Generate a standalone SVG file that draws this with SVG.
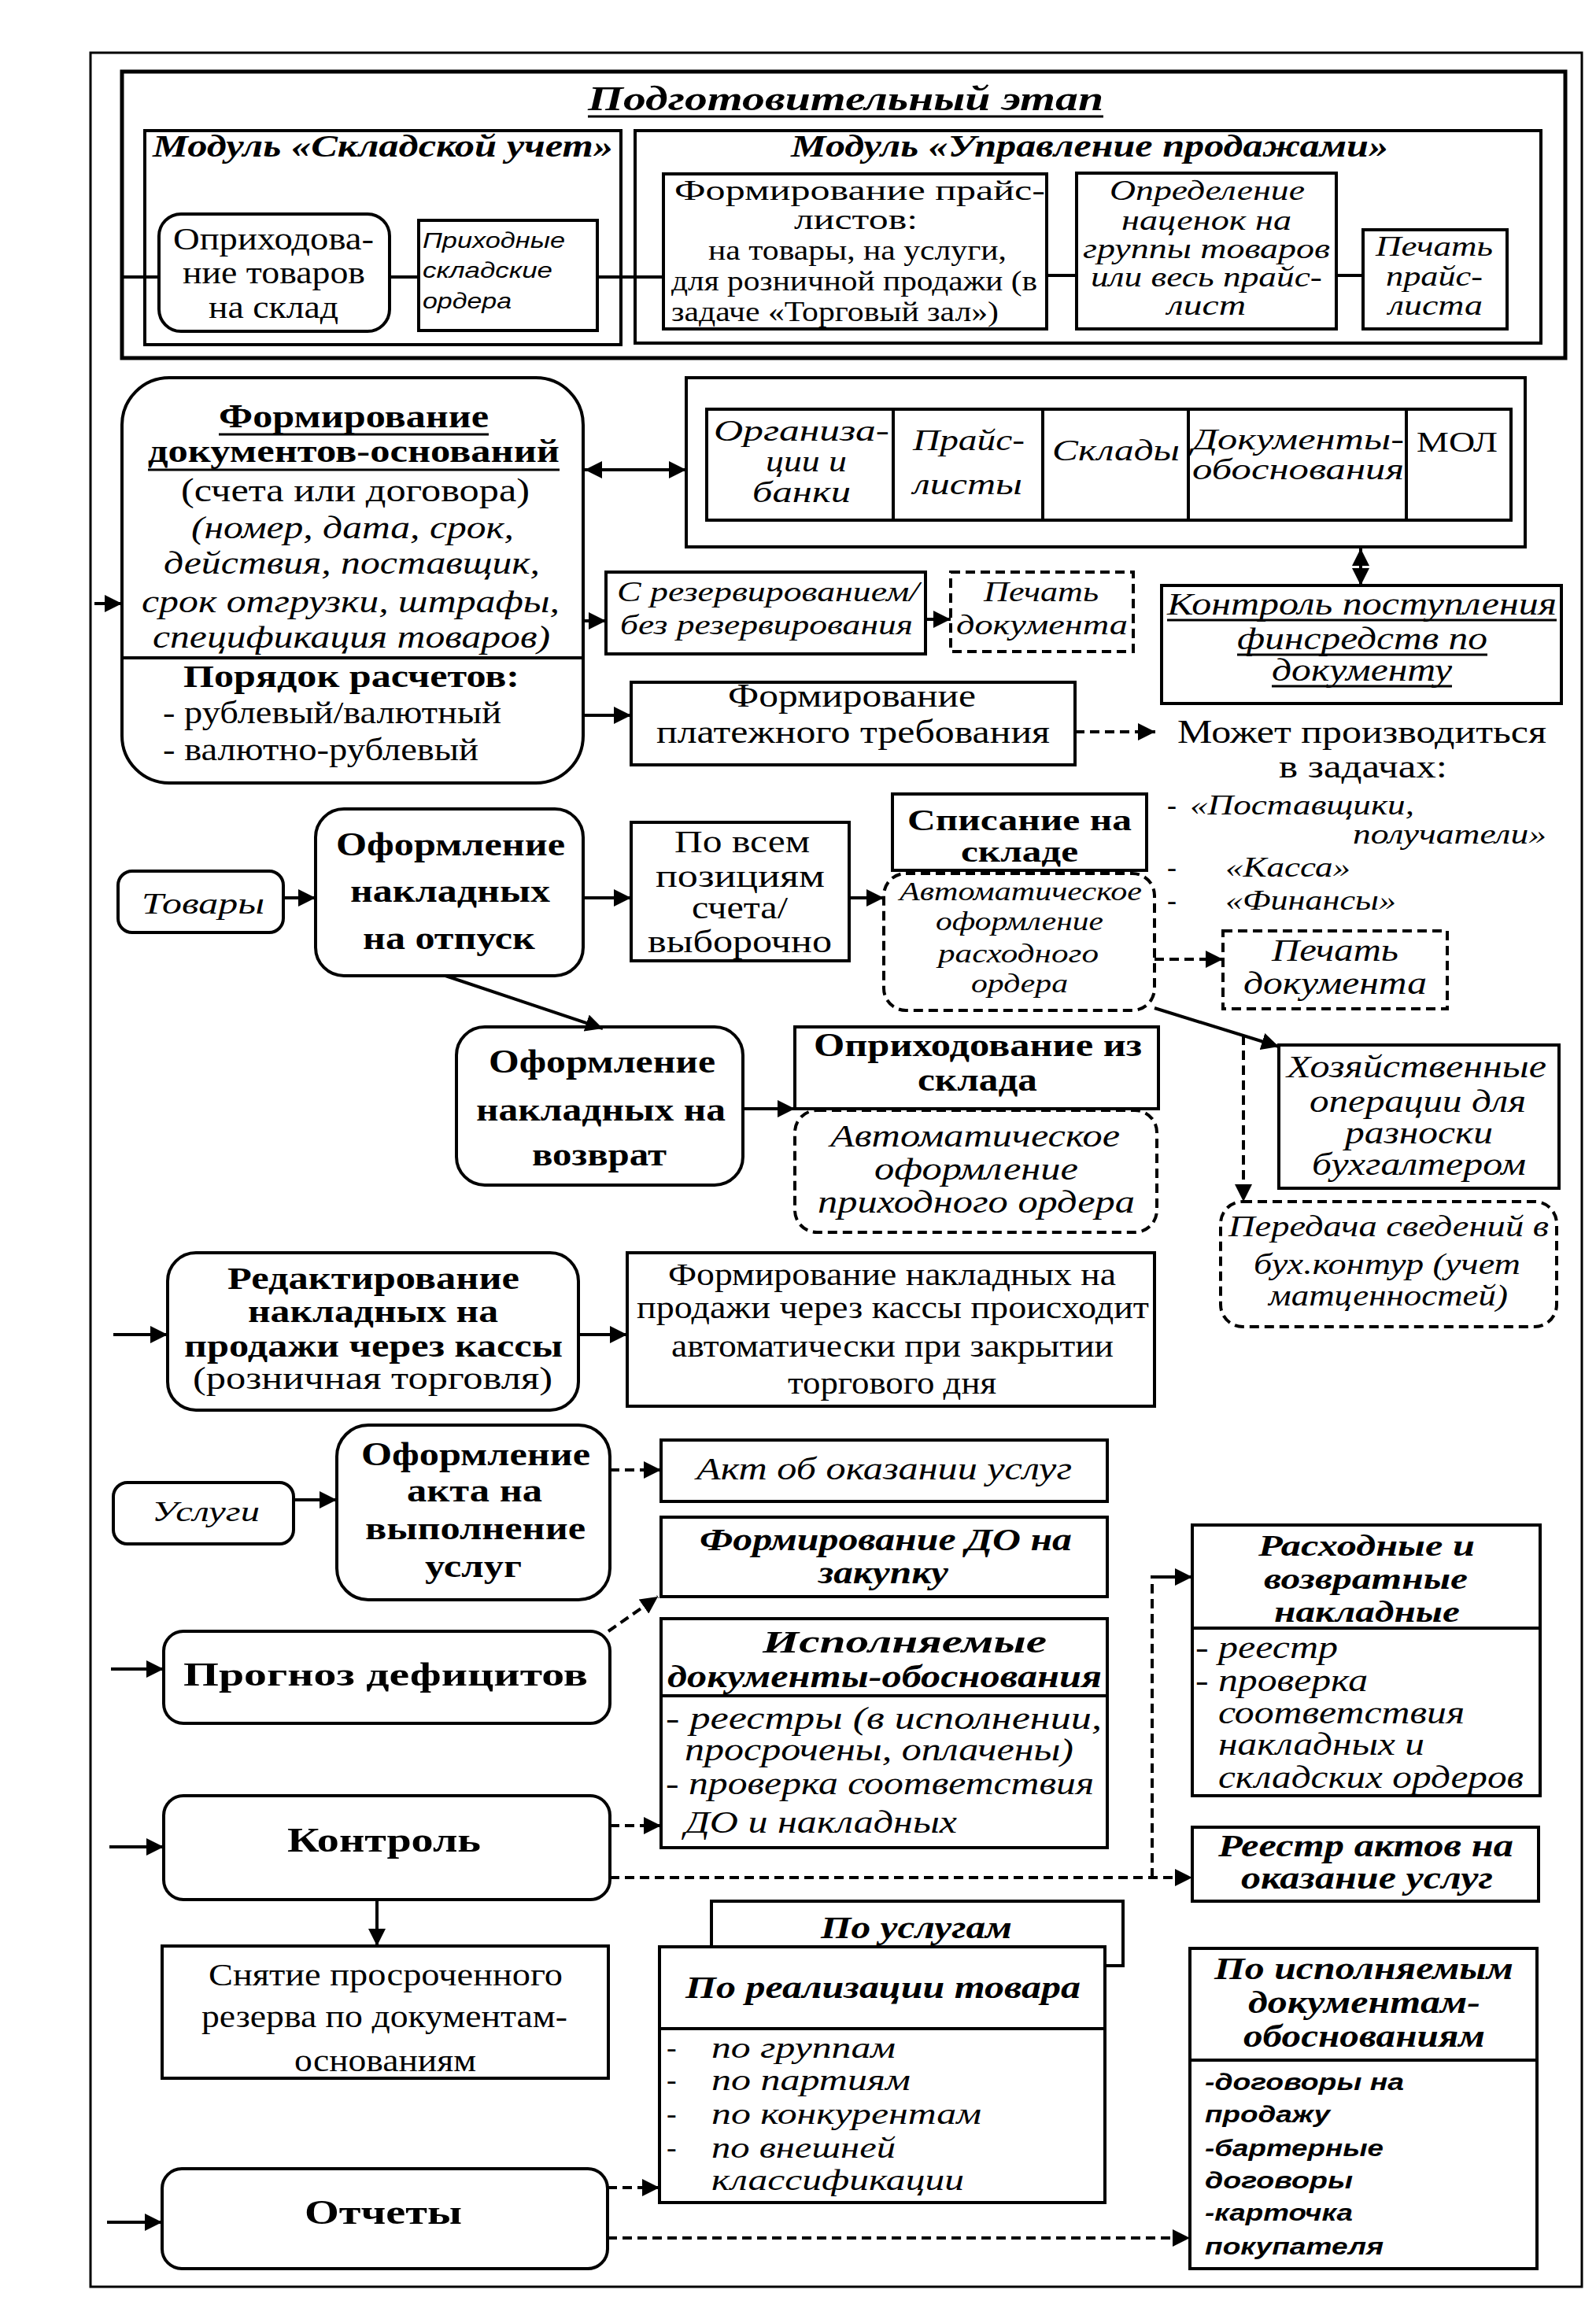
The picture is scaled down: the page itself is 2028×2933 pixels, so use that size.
<svg xmlns="http://www.w3.org/2000/svg" width="2028" height="2933" viewBox="0 0 2028 2933">
<defs>
<style>
text{font-family:"Liberation Serif","Times New Roman",serif;fill:#000}
.i{font-style:italic}
.b{font-weight:bold}
.bi{font-weight:bold;font-style:italic}
.ai{font-family:"Liberation Sans",Arial,sans-serif;font-style:italic}
.abi{font-family:"Liberation Sans",Arial,sans-serif;font-style:italic;font-weight:bold}
.box{fill:#fff;stroke:#000;stroke-width:4}
.dbox{fill:#fff;stroke:#000;stroke-width:4;stroke-dasharray:12 7}
.ln{fill:none;stroke:#000;stroke-width:4}
.dl{fill:none;stroke:#000;stroke-width:4;stroke-dasharray:12 7}
.ul{stroke:#000;stroke-width:3}
.ar{marker-end:url(#ah)}
.da{marker-start:url(#ah);marker-end:url(#ah)}
</style>
<marker id="ah" viewBox="0 0 22 22" refX="22" refY="11" markerWidth="22" markerHeight="22" markerUnits="userSpaceOnUse" orient="auto-start-reverse"><path d="M0,0 L22,11 L0,22 z" fill="#000"/></marker>
</defs>
<rect width="2028" height="2933" fill="#fff"/>
<g id="frames">
<rect x="115" y="67" width="1895" height="2839" fill="none" stroke="#000" stroke-width="3"/>
<rect x="155" y="91" width="1834" height="364" fill="none" stroke="#000" stroke-width="5"/>
<text class="bi" x="747" y="140" font-size="44" textLength="655" lengthAdjust="spacingAndGlyphs">Подготовительный этап</text>
<line class="ul" x1="747" y1="148" x2="1402" y2="148" stroke-width="4"/>
</g>
<g id="module-sklad">
<rect class="box" x="184" y="166" width="605" height="272"/>
<text class="bi" x="194" y="199" font-size="40" textLength="585" lengthAdjust="spacingAndGlyphs">Модуль «Складской учет»</text>
</g>
<g id="module-prodazhi">
<rect class="box" x="807" y="166" width="1151" height="270"/>
<text class="bi" x="1005" y="199" font-size="40" textLength="759" lengthAdjust="spacingAndGlyphs">Модуль «Управление продажами»</text>
</g>
<g id="n-oprihodovanie">
<rect class="box" x="202" y="272" width="293" height="149" rx="28"/>
<text x="220" y="317" font-size="40" textLength="255" lengthAdjust="spacingAndGlyphs">Оприходова-</text>
<text x="232" y="360" font-size="40" textLength="232" lengthAdjust="spacingAndGlyphs">ние товаров</text>
<text x="265" y="404" font-size="40" textLength="165" lengthAdjust="spacingAndGlyphs">на склад</text>
</g>
<g id="n-prihodnye">
<rect class="box" x="532" y="280" width="227" height="140"/>
<text class="ai" x="537" y="315" font-size="28" textLength="181" lengthAdjust="spacingAndGlyphs">Приходные</text>
<text class="ai" x="537" y="353" font-size="28" textLength="165" lengthAdjust="spacingAndGlyphs">складские</text>
<text class="ai" x="537" y="392" font-size="28" textLength="113" lengthAdjust="spacingAndGlyphs">ордера</text>
</g>
<g id="n-praisy">
<rect class="box" x="843" y="221" width="487" height="197"/>
<text x="857" y="254" font-size="36" textLength="471" lengthAdjust="spacingAndGlyphs">Формирование прайс-</text>
<text x="1009" y="291" font-size="36" textLength="157" lengthAdjust="spacingAndGlyphs">листов:</text>
<text x="900" y="330" font-size="35" textLength="379" lengthAdjust="spacingAndGlyphs">на товары, на услуги,</text>
<text x="853" y="369" font-size="35" textLength="465" lengthAdjust="spacingAndGlyphs">для розничной продажи (в</text>
<text x="853" y="408" font-size="35" textLength="416" lengthAdjust="spacingAndGlyphs">задаче «Торговый зал»)</text>
</g>
<g id="n-nacenki">
<rect class="box" x="1368" y="220" width="330" height="198"/>
<text class="i" x="1410" y="254" font-size="35" textLength="248" lengthAdjust="spacingAndGlyphs">Определение</text>
<text class="i" x="1425" y="292" font-size="35" textLength="216" lengthAdjust="spacingAndGlyphs">наценок на</text>
<text class="i" x="1376" y="328" font-size="35" textLength="314" lengthAdjust="spacingAndGlyphs">группы товаров</text>
<text class="i" x="1386" y="364" font-size="35" textLength="294" lengthAdjust="spacingAndGlyphs">или весь прайс-</text>
<text class="i" x="1483" y="400" font-size="35" textLength="100" lengthAdjust="spacingAndGlyphs">лист</text>
</g>
<g id="n-pechat-praisa">
<rect class="box" x="1732" y="292" width="183" height="126"/>
<text class="i" x="1748" y="325" font-size="35" textLength="149" lengthAdjust="spacingAndGlyphs">Печать</text>
<text class="i" x="1761" y="363" font-size="35" textLength="123" lengthAdjust="spacingAndGlyphs">прайс-</text>
<text class="i" x="1764" y="400" font-size="35" textLength="120" lengthAdjust="spacingAndGlyphs">листа</text>
</g>
<g id="n-dokumenty-osnovaniya">
<rect class="box" x="155" y="480" width="586" height="515" rx="60"/>
<line class="ln" x1="155" y1="836" x2="741" y2="836"/>
<text class="b" x="278" y="543" font-size="42" textLength="343" lengthAdjust="spacingAndGlyphs">Формирование</text>
<line class="ul" x1="278" y1="552" x2="621" y2="552"/>
<text class="b" x="188" y="587" font-size="42" textLength="523" lengthAdjust="spacingAndGlyphs">документов-оснований</text>
<line class="ul" x1="188" y1="597" x2="711" y2="597"/>
<text x="230" y="637" font-size="42" textLength="443" lengthAdjust="spacingAndGlyphs">(счета или договора)</text>
<text class="i" x="243" y="684" font-size="40" textLength="410" lengthAdjust="spacingAndGlyphs">(номер, дата, срок,</text>
<text class="i" x="208" y="729" font-size="40" textLength="478" lengthAdjust="spacingAndGlyphs">действия, поставщик,</text>
<text class="i" x="180" y="778" font-size="40" textLength="531" lengthAdjust="spacingAndGlyphs">срок отгрузки, штрафы,</text>
<text class="i" x="194" y="823" font-size="40" textLength="505" lengthAdjust="spacingAndGlyphs">спецификация товаров)</text>
<text class="b" x="233" y="873" font-size="40" textLength="427" lengthAdjust="spacingAndGlyphs">Порядок расчетов:</text>
<text x="207" y="919" font-size="40" textLength="430" lengthAdjust="spacingAndGlyphs">- рублевый/валютный</text>
<text x="207" y="966" font-size="40" textLength="401" lengthAdjust="spacingAndGlyphs">- валютно-рублевый</text>
</g>
<g id="n-spravochniki">
<rect class="box" x="872" y="480" width="1066" height="215"/>
<rect class="box" x="898" y="520" width="1022" height="141"/>
<line class="ln" x1="1135" y1="520" x2="1135" y2="661"/>
<line class="ln" x1="1325" y1="520" x2="1325" y2="661"/>
<line class="ln" x1="1510" y1="520" x2="1510" y2="661"/>
<line class="ln" x1="1787" y1="520" x2="1787" y2="661"/>
<text class="i" x="907" y="560" font-size="38" textLength="223" lengthAdjust="spacingAndGlyphs">Организа-</text>
<text class="i" x="973" y="599" font-size="38" textLength="103" lengthAdjust="spacingAndGlyphs">ции и</text>
<text class="i" x="956" y="638" font-size="38" textLength="125" lengthAdjust="spacingAndGlyphs">банки</text>
<text class="i" x="1160" y="572" font-size="38" textLength="142" lengthAdjust="spacingAndGlyphs">Прайс-</text>
<text class="i" x="1160" y="628" font-size="38" textLength="139" lengthAdjust="spacingAndGlyphs">листы</text>
<text class="i" x="1337" y="585" font-size="38" textLength="162" lengthAdjust="spacingAndGlyphs">Склады</text>
<text class="i" x="1515" y="571" font-size="38" textLength="269" lengthAdjust="spacingAndGlyphs">Документы-</text>
<text class="i" x="1515" y="609" font-size="38" textLength="269" lengthAdjust="spacingAndGlyphs">обоснования</text>
<text x="1800" y="574" font-size="36" textLength="103" lengthAdjust="spacingAndGlyphs">МОЛ</text>
</g>
<g id="n-rezerv">
<rect class="box" x="770" y="727" width="406" height="104"/>
<text class="i" x="784" y="764" font-size="36" textLength="384" lengthAdjust="spacingAndGlyphs">С резервированием/</text>
<text class="i" x="788" y="806" font-size="36" textLength="372" lengthAdjust="spacingAndGlyphs">без резервирования</text>
</g>
<g id="n-pechat-doc1">
<rect class="dbox" x="1208" y="727" width="232" height="101"/>
<text class="i" x="1250" y="764" font-size="36" textLength="146" lengthAdjust="spacingAndGlyphs">Печать</text>
<text class="i" x="1215" y="806" font-size="36" textLength="218" lengthAdjust="spacingAndGlyphs">документа</text>
</g>
<g id="n-kontrol-finsredstv">
<rect class="box" x="1476" y="744" width="508" height="150"/>
<text class="i" x="1483" y="781" font-size="40" textLength="495" lengthAdjust="spacingAndGlyphs">Контроль поступления</text>
<line class="ul" x1="1483" y1="788" x2="1978" y2="788"/>
<text class="i" x="1572" y="825" font-size="40" textLength="318" lengthAdjust="spacingAndGlyphs">финсредств по</text>
<line class="ul" x1="1572" y1="832" x2="1890" y2="832"/>
<text class="i" x="1616" y="865" font-size="40" textLength="229" lengthAdjust="spacingAndGlyphs">документу</text>
<line class="ul" x1="1616" y1="872" x2="1845" y2="872"/>
</g>
<g id="n-platezhnoe">
<rect class="box" x="802" y="867" width="564" height="105"/>
<text x="925" y="898" font-size="42" textLength="315" lengthAdjust="spacingAndGlyphs">Формирование</text>
<text x="834" y="944" font-size="42" textLength="500" lengthAdjust="spacingAndGlyphs">платежного требования</text>
</g>
<g id="n-mozhet">
<text x="1496" y="944" font-size="42" textLength="469" lengthAdjust="spacingAndGlyphs">Может производиться</text>
<text x="1625" y="988" font-size="42" textLength="214" lengthAdjust="spacingAndGlyphs">в задачах:</text>
<text class="i" x="1483" y="1035" font-size="36">-</text>
<text class="i" x="1512" y="1035" font-size="36" textLength="285" lengthAdjust="spacingAndGlyphs">«Поставщики,</text>
<text class="i" x="1719" y="1072" font-size="36" textLength="246" lengthAdjust="spacingAndGlyphs">получатели»</text>
<text class="i" x="1483" y="1114" font-size="36">-</text>
<text class="i" x="1557" y="1114" font-size="36" textLength="159" lengthAdjust="spacingAndGlyphs">«Касса»</text>
<text class="i" x="1483" y="1156" font-size="36">-</text>
<text class="i" x="1557" y="1156" font-size="36" textLength="217" lengthAdjust="spacingAndGlyphs">«Финансы»</text>
</g>
<g id="n-tovary">
<rect class="box" x="150" y="1107" width="210" height="78" rx="18"/>
<text class="i" x="180" y="1161" font-size="38" textLength="156" lengthAdjust="spacingAndGlyphs">Товары</text>
</g>
<g id="n-otpusk">
<rect class="box" x="401" y="1028" width="340" height="212" rx="36"/>
<text class="b" x="427" y="1087" font-size="42" textLength="291" lengthAdjust="spacingAndGlyphs">Оформление</text>
<text class="b" x="445" y="1146" font-size="42" textLength="254" lengthAdjust="spacingAndGlyphs">накладных</text>
<text class="b" x="461" y="1206" font-size="42" textLength="219" lengthAdjust="spacingAndGlyphs">на отпуск</text>
</g>
<g id="n-po-vsem">
<rect class="box" x="802" y="1045" width="277" height="176"/>
<text x="857" y="1083" font-size="40" textLength="172" lengthAdjust="spacingAndGlyphs">По всем</text>
<text x="833" y="1127" font-size="40" textLength="215" lengthAdjust="spacingAndGlyphs">позициям</text>
<text x="879" y="1167" font-size="40" textLength="122" lengthAdjust="spacingAndGlyphs">счета/</text>
<text x="823" y="1210" font-size="40" textLength="234" lengthAdjust="spacingAndGlyphs">выборочно</text>
</g>
<g id="n-spisanie">
<rect class="box" x="1134" y="1009" width="323" height="97"/>
<text class="b" x="1153" y="1055" font-size="38" textLength="285" lengthAdjust="spacingAndGlyphs">Списание на</text>
<text class="b" x="1221" y="1095" font-size="38" textLength="149" lengthAdjust="spacingAndGlyphs">складе</text>
</g>
<g id="n-avto-rashod">
<rect class="dbox" x="1123" y="1110" width="344" height="174" rx="28"/>
<text class="i" x="1143" y="1144" font-size="34" textLength="308" lengthAdjust="spacingAndGlyphs">Автоматическое</text>
<text class="i" x="1189" y="1182" font-size="34" textLength="213" lengthAdjust="spacingAndGlyphs">оформление</text>
<text class="i" x="1192" y="1223" font-size="34" textLength="204" lengthAdjust="spacingAndGlyphs">расходного</text>
<text class="i" x="1234" y="1261" font-size="34" textLength="123" lengthAdjust="spacingAndGlyphs">ордера</text>
</g>
<g id="n-pechat-doc2">
<rect class="dbox" x="1554" y="1183" width="285" height="99"/>
<text class="i" x="1616" y="1221" font-size="40" textLength="161" lengthAdjust="spacingAndGlyphs">Печать</text>
<text class="i" x="1580" y="1263" font-size="40" textLength="233" lengthAdjust="spacingAndGlyphs">документа</text>
</g>
<g id="n-hoz-operacii">
<rect class="box" x="1625" y="1328" width="356" height="182"/>
<text class="i" x="1635" y="1369" font-size="40" textLength="330" lengthAdjust="spacingAndGlyphs">Хозяйственные</text>
<text class="i" x="1664" y="1413" font-size="40" textLength="275" lengthAdjust="spacingAndGlyphs">операции для</text>
<text class="i" x="1709" y="1453" font-size="40" textLength="188" lengthAdjust="spacingAndGlyphs">разноски</text>
<text class="i" x="1667" y="1493" font-size="40" textLength="272" lengthAdjust="spacingAndGlyphs">бухгалтером</text>
</g>
<g id="n-peredacha">
<rect class="dbox" x="1551" y="1527" width="427" height="159" rx="28"/>
<text class="i" x="1561" y="1571" font-size="38" textLength="407" lengthAdjust="spacingAndGlyphs">Передача сведений в</text>
<text class="i" x="1593" y="1619" font-size="38" textLength="339" lengthAdjust="spacingAndGlyphs">бух.контур (учет</text>
<text class="i" x="1612" y="1659" font-size="38" textLength="304" lengthAdjust="spacingAndGlyphs">матценностей)</text>
</g>
<g id="n-vozvrat">
<rect class="box" x="580" y="1305" width="364" height="201" rx="36"/>
<text class="b" x="621" y="1363" font-size="42" textLength="288" lengthAdjust="spacingAndGlyphs">Оформление</text>
<text class="b" x="605" y="1424" font-size="42" textLength="317" lengthAdjust="spacingAndGlyphs">накладных на</text>
<text class="b" x="676" y="1481" font-size="42" textLength="171" lengthAdjust="spacingAndGlyphs">возврат</text>
</g>
<g id="n-oprihodovanie-iz">
<rect class="box" x="1010" y="1305" width="462" height="104"/>
<text class="b" x="1034" y="1342" font-size="42" textLength="417" lengthAdjust="spacingAndGlyphs">Оприходование из</text>
<text class="b" x="1166" y="1386" font-size="42" textLength="152" lengthAdjust="spacingAndGlyphs">склада</text>
</g>
<g id="n-avto-prihod">
<rect class="dbox" x="1010" y="1411" width="460" height="155" rx="28"/>
<text class="i" x="1055" y="1457" font-size="40" textLength="368" lengthAdjust="spacingAndGlyphs">Автоматическое</text>
<text class="i" x="1111" y="1499" font-size="40" textLength="259" lengthAdjust="spacingAndGlyphs">оформление</text>
<text class="i" x="1039" y="1541" font-size="40" textLength="403" lengthAdjust="spacingAndGlyphs">приходного ордера</text>
</g>
<g id="n-redaktirovanie">
<rect class="box" x="213" y="1592" width="522" height="200" rx="36"/>
<text class="b" x="289" y="1638" font-size="40" textLength="371" lengthAdjust="spacingAndGlyphs">Редактирование</text>
<text class="b" x="315" y="1680" font-size="40" textLength="318" lengthAdjust="spacingAndGlyphs">накладных на</text>
<text class="b" x="234" y="1724" font-size="40" textLength="481" lengthAdjust="spacingAndGlyphs">продажи через кассы</text>
<text x="245" y="1765" font-size="40" textLength="457" lengthAdjust="spacingAndGlyphs">(розничная торговля)</text>
</g>
<g id="n-kassy-avto">
<rect class="box" x="797" y="1592" width="670" height="195"/>
<text x="849" y="1633" font-size="40" textLength="569" lengthAdjust="spacingAndGlyphs">Формирование накладных на</text>
<text x="809" y="1675" font-size="40" textLength="651" lengthAdjust="spacingAndGlyphs">продажи через кассы происходит</text>
<text x="853" y="1724" font-size="40" textLength="562" lengthAdjust="spacingAndGlyphs">автоматически при закрытии</text>
<text x="1001" y="1771" font-size="40" textLength="265" lengthAdjust="spacingAndGlyphs">торгового дня</text>
</g>
<g id="n-uslugi">
<rect class="box" x="144" y="1884" width="229" height="78" rx="18"/>
<text class="i" x="193" y="1933" font-size="36" textLength="137" lengthAdjust="spacingAndGlyphs">Услуги</text>
</g>
<g id="n-akt-oformlenie">
<rect class="box" x="428" y="1811" width="347" height="222" rx="40"/>
<text class="b" x="459" y="1862" font-size="42" textLength="291" lengthAdjust="spacingAndGlyphs">Оформление</text>
<text class="b" x="517" y="1908" font-size="42" textLength="172" lengthAdjust="spacingAndGlyphs">акта на</text>
<text class="b" x="464" y="1956" font-size="42" textLength="280" lengthAdjust="spacingAndGlyphs">выполнение</text>
<text class="b" x="540" y="2004" font-size="42" textLength="123" lengthAdjust="spacingAndGlyphs">услуг</text>
</g>
<g id="n-akt">
<rect class="box" x="840" y="1830" width="567" height="78"/>
<text class="i" x="885" y="1880" font-size="40" textLength="477" lengthAdjust="spacingAndGlyphs">Акт об оказании услуг</text>
</g>
<g id="n-do-zakupka">
<rect class="box" x="840" y="1928" width="567" height="101"/>
<text class="bi" x="889" y="1970" font-size="40" textLength="473" lengthAdjust="spacingAndGlyphs">Формирование ДО на</text>
<text class="bi" x="1040" y="2012" font-size="40" textLength="165" lengthAdjust="spacingAndGlyphs">закупку</text>
</g>
<g id="n-prognoz">
<rect class="box" x="208" y="2073" width="567" height="117" rx="25"/>
<text class="b" x="233" y="2142" font-size="42" textLength="514" lengthAdjust="spacingAndGlyphs">Прогноз дефицитов</text>
</g>
<g id="n-ispolnyaemye">
<rect class="box" x="840" y="2057" width="567" height="291"/>
<line class="ln" x1="840" y1="2155" x2="1407" y2="2155"/>
<text class="bi" x="969" y="2100" font-size="40" textLength="361" lengthAdjust="spacingAndGlyphs">Исполняемые</text>
<text class="bi" x="848" y="2144" font-size="40" textLength="552" lengthAdjust="spacingAndGlyphs">документы-обоснования</text>
<text class="i" x="846" y="2197" font-size="40" textLength="554" lengthAdjust="spacingAndGlyphs">- реестры (в исполнении,</text>
<text class="i" x="870" y="2237" font-size="40" textLength="494" lengthAdjust="spacingAndGlyphs">просрочены, оплачены)</text>
<text class="i" x="846" y="2280" font-size="40" textLength="544" lengthAdjust="spacingAndGlyphs">- проверка соответствия</text>
<text class="i" x="870" y="2329" font-size="40" textLength="346" lengthAdjust="spacingAndGlyphs">ДО и накладных</text>
</g>
<g id="n-kontrol">
<rect class="box" x="208" y="2282" width="567" height="132" rx="25"/>
<text class="b" x="365" y="2353" font-size="44" textLength="246" lengthAdjust="spacingAndGlyphs">Контроль</text>
</g>
<g id="n-rashodnye">
<rect class="box" x="1515" y="1938" width="442" height="344"/>
<line class="ln" x1="1515" y1="2069" x2="1957" y2="2069"/>
<text class="bi" x="1599" y="1977" font-size="38" textLength="275" lengthAdjust="spacingAndGlyphs">Расходные и</text>
<text class="bi" x="1606" y="2019" font-size="38" textLength="259" lengthAdjust="spacingAndGlyphs">возвратные</text>
<text class="bi" x="1619" y="2061" font-size="38" textLength="236" lengthAdjust="spacingAndGlyphs">накладные</text>
<text class="i" x="1519" y="2107" font-size="40" textLength="181" lengthAdjust="spacingAndGlyphs">- реестр</text>
<text class="i" x="1519" y="2149" font-size="40" textLength="219" lengthAdjust="spacingAndGlyphs">- проверка</text>
<text class="i" x="1548" y="2190" font-size="40" textLength="313" lengthAdjust="spacingAndGlyphs">соответствия</text>
<text class="i" x="1548" y="2230" font-size="40" textLength="262" lengthAdjust="spacingAndGlyphs">накладных и</text>
<text class="i" x="1548" y="2272" font-size="40" textLength="388" lengthAdjust="spacingAndGlyphs">складских ордеров</text>
</g>
<g id="n-reestr-aktov">
<rect class="box" x="1515" y="2322" width="440" height="94"/>
<text class="bi" x="1548" y="2359" font-size="40" textLength="375" lengthAdjust="spacingAndGlyphs">Реестр актов на</text>
<text class="bi" x="1577" y="2400" font-size="40" textLength="320" lengthAdjust="spacingAndGlyphs">оказание услуг</text>
</g>
<g id="n-snyatie">
<rect class="box" x="206" y="2473" width="567" height="168"/>
<text x="265" y="2523" font-size="40" textLength="450" lengthAdjust="spacingAndGlyphs">Снятие просроченного</text>
<text x="256" y="2576" font-size="40" textLength="465" lengthAdjust="spacingAndGlyphs">резерва по документам-</text>
<text x="374" y="2632" font-size="40" textLength="231" lengthAdjust="spacingAndGlyphs">основаниям</text>
</g>
<g id="n-po-uslugam">
<rect class="box" x="904" y="2416" width="523" height="82"/>
<text class="bi" x="1043" y="2463" font-size="40" textLength="243" lengthAdjust="spacingAndGlyphs">По услугам</text>
</g>
<g id="n-po-realizacii">
<rect class="box" x="838" y="2474" width="566" height="325"/>
<line class="ln" x1="838" y1="2578" x2="1404" y2="2578"/>
<text class="bi" x="871" y="2539" font-size="40" textLength="502" lengthAdjust="spacingAndGlyphs">По реализации товара</text>
<text class="i" x="847" y="2615" font-size="38">-</text>
<text class="i" x="904" y="2615" font-size="38" textLength="234" lengthAdjust="spacingAndGlyphs">по группам</text>
<text class="i" x="847" y="2656" font-size="38">-</text>
<text class="i" x="904" y="2656" font-size="38" textLength="253" lengthAdjust="spacingAndGlyphs">по партиям</text>
<text class="i" x="847" y="2699" font-size="38">-</text>
<text class="i" x="904" y="2699" font-size="38" textLength="343" lengthAdjust="spacingAndGlyphs">по конкурентам</text>
<text class="i" x="847" y="2742" font-size="38">-</text>
<text class="i" x="904" y="2742" font-size="38" textLength="234" lengthAdjust="spacingAndGlyphs">по внешней</text>
<text class="i" x="904" y="2783" font-size="38" textLength="321" lengthAdjust="spacingAndGlyphs">классификации</text>
</g>
<g id="n-otchety">
<rect class="box" x="206" y="2756" width="566" height="127" rx="25"/>
<text class="b" x="387" y="2826" font-size="44" textLength="200" lengthAdjust="spacingAndGlyphs">Отчеты</text>
</g>
<g id="n-po-ispolnyaemym">
<rect class="box" x="1512" y="2476" width="441" height="407"/>
<line class="ln" x1="1512" y1="2618" x2="1953" y2="2618"/>
<text class="bi" x="1543" y="2515" font-size="40" textLength="380" lengthAdjust="spacingAndGlyphs">По исполняемым</text>
<text class="bi" x="1586" y="2558" font-size="40" textLength="295" lengthAdjust="spacingAndGlyphs">документам-</text>
<text class="bi" x="1580" y="2601" font-size="40" textLength="307" lengthAdjust="spacingAndGlyphs">обоснованиям</text>
<text class="abi" x="1531" y="2656" font-size="30" textLength="253" lengthAdjust="spacingAndGlyphs">-договоры на</text>
<text class="abi" x="1531" y="2697" font-size="30" textLength="159" lengthAdjust="spacingAndGlyphs">продажу</text>
<text class="abi" x="1531" y="2740" font-size="30" textLength="227" lengthAdjust="spacingAndGlyphs">-бартерные</text>
<text class="abi" x="1531" y="2781" font-size="30" textLength="188" lengthAdjust="spacingAndGlyphs">договоры</text>
<text class="abi" x="1531" y="2822" font-size="30" textLength="188" lengthAdjust="spacingAndGlyphs">-карточка</text>
<text class="abi" x="1531" y="2865" font-size="30" textLength="227" lengthAdjust="spacingAndGlyphs">покупателя</text>
</g>
<g id="connectors">
<line class="ln" x1="155" y1="352" x2="202" y2="352"/>
<line class="ln" x1="495" y1="352" x2="532" y2="352"/>
<line class="ln" x1="759" y1="352" x2="843" y2="352"/>
<line class="ln" x1="1330" y1="350" x2="1368" y2="350"/>
<line class="ln" x1="1698" y1="350" x2="1732" y2="350"/>
<line class="ln ar" x1="120" y1="767" x2="155" y2="767"/>
<line class="ln da" x1="743" y1="597" x2="872" y2="597"/>
<line class="ln da" x1="1729" y1="697" x2="1729" y2="744"/>
<line class="ln ar" x1="741" y1="789" x2="770" y2="789"/>
<line class="ln ar" x1="1176" y1="787" x2="1208" y2="787"/>
<line class="ln ar" x1="741" y1="909" x2="802" y2="909"/>
<line class="dl ar" x1="1366" y1="930" x2="1468" y2="930"/>
<line class="ln ar" x1="360" y1="1141" x2="401" y2="1141"/>
<line class="ln ar" x1="741" y1="1141" x2="802" y2="1141"/>
<line class="ln ar" x1="1079" y1="1141" x2="1123" y2="1141"/>
<line class="dl ar" x1="1467" y1="1219" x2="1554" y2="1219"/>
<line class="ln ar" x1="1467" y1="1281" x2="1625" y2="1330"/>
<line class="dl ar" x1="1580" y1="1316" x2="1580" y2="1527"/>
<line class="ln ar" x1="566" y1="1240" x2="766" y2="1307"/>
<line class="ln ar" x1="944" y1="1409" x2="1010" y2="1409"/>
<line class="ln ar" x1="144" y1="1696" x2="213" y2="1696"/>
<line class="ln ar" x1="735" y1="1696" x2="797" y2="1696"/>
<line class="ln ar" x1="373" y1="1906" x2="428" y2="1906"/>
<line class="dl ar" x1="775" y1="1868" x2="840" y2="1868"/>
<line class="dl ar" x1="773" y1="2073" x2="836" y2="2029"/>
<line class="ln ar" x1="141" y1="2121" x2="208" y2="2121"/>
<line class="ln ar" x1="139" y1="2347" x2="208" y2="2347"/>
<line class="dl ar" x1="775" y1="2320" x2="840" y2="2320"/>
<line class="dl ar" x1="775" y1="2386" x2="1515" y2="2386"/>
<line class="dl" x1="1464" y1="2386" x2="1464" y2="2004"/>
<line class="ln ar" x1="1462" y1="2004" x2="1515" y2="2004"/>
<line class="ln ar" x1="479" y1="2414" x2="479" y2="2473"/>
<line class="ln ar" x1="136" y1="2824" x2="206" y2="2824"/>
<line class="dl ar" x1="772" y1="2780" x2="838" y2="2780"/>
<line class="dl ar" x1="772" y1="2844" x2="1512" y2="2844"/>
</g>
</svg>
